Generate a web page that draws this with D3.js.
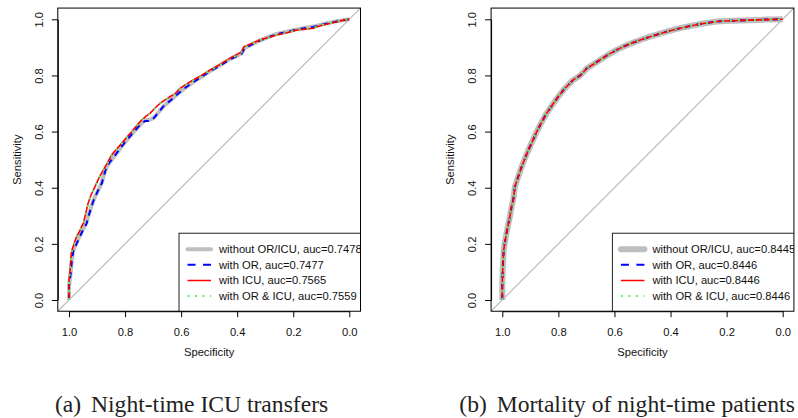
<!DOCTYPE html>
<html>
<head>
<meta charset="utf-8">
<script src="https://cdn.jsdelivr.net/npm/d3@7"></script>
<style>
  body { margin: 0; background: #fff; }
  svg text { font-family: "Liberation Sans", Arial, sans-serif; }
</style>
</head>
<body>
<svg width="798" height="418"></svg>
<script>
// ---- data (specificity, sensitivity) ----
var tickValues = [1.0, 0.8, 0.6, 0.4, 0.2, 0.0];

var transferLabels = ["without OR/ICU, auc=0.7478", "with OR, auc=0.7477",
                      "with ICU, auc=0.7565", "with OR & ICU, auc=0.7559"];
var mortalityLabels = ["without OR/ICU, auc=0.8445", "with OR, auc=0.8446",
                       "with ICU, auc=0.8446", "with OR & ICU, auc=0.8446"];
var captions = ["Night-time ICU transfers", "Mortality of night-time patients"];

// (a) night-time ICU transfers
var transferWithout = [[1,0],[1,0.05],[0.994,0.095],[0.99,0.14],[0.986,0.172],[0.975,0.2],[0.963,0.226],
  [0.951,0.25],[0.939,0.273],[0.931,0.3],[0.923,0.325],[0.915,0.35],[0.906,0.37],[0.9,0.382],[0.891,0.4],
  [0.883,0.418],[0.875,0.446],[0.865,0.476],[0.847,0.5],[0.829,0.524],[0.811,0.548],[0.793,0.571],
  [0.772,0.595],[0.752,0.618],[0.73,0.64],[0.712,0.642],[0.7,0.648],[0.692,0.655],[0.677,0.673],
  [0.663,0.69],[0.636,0.713],[0.609,0.737],[0.584,0.757],[0.556,0.777],[0.526,0.796],[0.496,0.816],
  [0.46,0.837],[0.426,0.858],[0.4,0.87],[0.384,0.879],[0.374,0.897],[0.345,0.912],[0.319,0.925],
  [0.285,0.938],[0.259,0.948],[0.222,0.956],[0.188,0.964],[0.155,0.97],[0.128,0.974],[0.093,0.983],
  [0.065,0.989],[0.045,0.993],[0.02,0.997],[0,1]];
var transferOR = [[1,0],[1,0.05],[0.994,0.095],[0.99,0.14],[0.985,0.172],[0.973,0.2],[0.961,0.226],
  [0.95,0.25],[0.937,0.273],[0.93,0.3],[0.922,0.325],[0.914,0.35],[0.906,0.37],[0.901,0.38],[0.892,0.4],
  [0.883,0.416],[0.875,0.445],[0.866,0.475],[0.848,0.5],[0.83,0.523],[0.812,0.547],[0.794,0.57],
  [0.773,0.594],[0.753,0.617],[0.729,0.638],[0.711,0.638],[0.7,0.645],[0.693,0.653],[0.678,0.672],
  [0.664,0.689],[0.637,0.712],[0.61,0.736],[0.585,0.756],[0.557,0.776],[0.527,0.795],[0.497,0.815],
  [0.46,0.836],[0.426,0.857],[0.4,0.869],[0.384,0.878],[0.374,0.896],[0.345,0.912],[0.319,0.924],
  [0.285,0.937],[0.259,0.947],[0.222,0.955],[0.188,0.963],[0.155,0.969],[0.128,0.973],[0.093,0.982],
  [0.065,0.988],[0.045,0.992],[0.02,0.997],[0,1]];
var transferICU = [[1,0],[1,0.07],[0.996,0.107],[0.993,0.15],[0.991,0.172],[0.982,0.2],[0.973,0.226],
  [0.962,0.245],[0.955,0.262],[0.949,0.273],[0.94,0.31],[0.933,0.34],[0.928,0.356],[0.921,0.375],
  [0.914,0.39],[0.907,0.404],[0.893,0.435],[0.878,0.463],[0.862,0.49],[0.848,0.517],[0.83,0.538],
  [0.812,0.558],[0.794,0.58],[0.776,0.6],[0.758,0.622],[0.741,0.641],[0.725,0.655],[0.711,0.665],
  [0.692,0.685],[0.675,0.701],[0.658,0.712],[0.64,0.724],[0.622,0.735],[0.604,0.754],[0.58,0.77],
  [0.557,0.784],[0.527,0.8],[0.497,0.819],[0.46,0.84],[0.426,0.861],[0.4,0.875],[0.384,0.885],
  [0.376,0.902],[0.348,0.914],[0.319,0.926],[0.29,0.935],[0.259,0.944],[0.222,0.952],[0.188,0.962],
  [0.155,0.965],[0.128,0.968],[0.11,0.975],[0.093,0.98],[0.07,0.985],[0.045,0.991],[0.02,0.997],[0,1]];
var transferORICU = [[1,0],[1,0.07],[0.996,0.107],[0.993,0.15],[0.99,0.172],[0.981,0.2],[0.972,0.226],
  [0.961,0.245],[0.954,0.262],[0.948,0.273],[0.939,0.31],[0.932,0.34],[0.927,0.356],[0.92,0.375],
  [0.913,0.39],[0.906,0.404],[0.892,0.435],[0.877,0.463],[0.861,0.49],[0.847,0.517],[0.829,0.538],
  [0.811,0.558],[0.793,0.58],[0.775,0.6],[0.757,0.622],[0.74,0.64],[0.724,0.654],[0.71,0.664],
  [0.691,0.684],[0.674,0.7],[0.657,0.711],[0.639,0.723],[0.621,0.734],[0.603,0.752],[0.579,0.769],
  [0.556,0.783],[0.526,0.799],[0.496,0.818],[0.46,0.838],[0.426,0.858],[0.4,0.873],[0.384,0.883],
  [0.375,0.9],[0.347,0.913],[0.319,0.925],[0.29,0.934],[0.259,0.944],[0.222,0.952],[0.188,0.962],
  [0.155,0.966],[0.128,0.969],[0.11,0.976],[0.093,0.981],[0.07,0.986],[0.045,0.991],[0.02,0.997],[0,1]];

// (b) mortality: all four curves coincide (auc 0.8445 / 0.8446)
var mortalityCurve = [[1,0],[1,0.06],[0.998,0.119],[0.995,0.178],[0.99,0.21],[0.985,0.238],[0.979,0.268],
  [0.973,0.297],[0.967,0.332],[0.961,0.356],[0.955,0.404],[0.943,0.44],[0.931,0.475],[0.919,0.505],
  [0.907,0.534],[0.892,0.567],[0.877,0.6],[0.86,0.633],[0.842,0.665],[0.818,0.7],[0.8,0.725],
  [0.782,0.748],[0.765,0.766],[0.747,0.784],[0.722,0.8],[0.699,0.825],[0.675,0.84],[0.652,0.855],
  [0.622,0.874],[0.592,0.891],[0.563,0.905],[0.533,0.917],[0.503,0.928],[0.473,0.938],[0.444,0.947],
  [0.414,0.956],[0.384,0.964],[0.354,0.971],[0.325,0.977],[0.295,0.983],[0.265,0.988],[0.235,0.992],
  [0.205,0.994],[0.176,0.995],[0.12,0.997],[0.06,0.999],[0,1]];

// ---- drawing ----
var svg = d3.select("svg");
var fontSize = 11.2;

var panels = [
  { id: "a", x0: 69, x1: 349.3, grayW: 4, series: [transferWithout, transferOR, transferICU, transferORICU],
    labels: transferLabels, caption: captions[0], capX: 55, capGap: 36 },
  { id: "b", x0: 502.3, x1: 782.7, grayW: 6, series: [mortalityCurve, mortalityCurve, mortalityCurve, mortalityCurve],
    labels: mortalityLabels, caption: captions[1], capX: 459.3, capGap: 37.4 }
];

// line styles: gray wide, blue dashed, red solid, green dotted
function styleFor(i, p) {
  return [
    { stroke: "#bebebe", width: p.grayW, dash: null, legendDash: null },
    { stroke: "#0000ff", width: 2, dash: "6,5", legendDash: "8,7.5" },
    { stroke: "#ff0000", width: 1.6, dash: null, legendDash: null },
    { stroke: "#66ee66", width: 2, dash: "2,6", legendDash: "2,5.5" }
  ][i];
}

panels.forEach(function(p) {
  var x = d3.scaleLinear().domain([1, 0]).range([p.x0, p.x1]);
  var y = d3.scaleLinear().domain([0, 1]).range([300, 19.3]);
  var bx0 = x(1.04), bx1 = x(-0.04), by0 = y(1.04), by1 = y(-0.04);

  svg.append("clipPath").attr("id", "clip-" + p.id)
    .append("rect").attr("x", bx0).attr("y", by0).attr("width", bx1 - bx0).attr("height", by1 - by0);

  var g = svg.append("g").attr("clip-path", "url(#clip-" + p.id + ")");

  // chance diagonal
  g.append("line")
    .attr("x1", x(1.1)).attr("y1", y(-0.1)).attr("x2", x(-0.1)).attr("y2", y(1.1))
    .style("stroke", "#b4b4b4").style("stroke-width", 1.1);

  var line = d3.line().x(function(d) { return x(d[0]); }).y(function(d) { return y(d[1]); });

  p.series.forEach(function(s, i) {
    var st = styleFor(i, p);
    g.append("path").datum(s).attr("d", line)
      .style("fill", "none").style("stroke", st.stroke).style("stroke-width", st.width)
      .style("stroke-dasharray", st.dash).style("stroke-linejoin", "round");
  });

  // legend, bottom right, clipped by plot box like the original
  var lx = bx1 - 181.5, ly = by1 - 78;
  g.append("rect").attr("x", lx).attr("y", ly).attr("width", 200).attr("height", 100)
    .style("fill", "#fff").style("stroke", "#222").style("stroke-width", 1);
  p.labels.forEach(function(t, i) {
    var st = styleFor(i, p);
    var yy = ly + 16 + i * 15.6;
    g.append("line").attr("x1", lx + 8.5).attr("x2", lx + 32).attr("y1", yy).attr("y2", yy)
      .style("stroke", st.stroke).style("stroke-width", st.width).style("stroke-dasharray", st.legendDash)
      .style("stroke-linecap", i === 0 ? "round" : "butt");
    g.append("text").attr("x", lx + 40).attr("y", yy).attr("dy", "0.35em")
      .style("font-size", fontSize + "px").style("fill", "#111").text(t);
  });

  // plot box
  svg.append("rect").attr("x", bx0).attr("y", by0).attr("width", bx1 - bx0).attr("height", by1 - by0)
    .style("fill", "none").style("stroke", "#000").style("stroke-width", 1);

  // axes
  var fmt = d3.format(".1f");
  var ax = svg.append("g").attr("transform", "translate(0," + by1 + ")")
    .call(d3.axisBottom(x).tickValues(tickValues).tickFormat(fmt).tickSize(6).tickSizeOuter(0).tickPadding(10.5));
  ax.selectAll("text").style("font-size", fontSize + "px").style("font-family", "Liberation Sans, Arial, sans-serif").style("fill", "#111");

  var ay = svg.append("g").attr("transform", "translate(" + bx0 + ",0)")
    .call(d3.axisLeft(y).tickValues(tickValues.slice().reverse()).tickFormat(fmt).tickSize(6).tickSizeOuter(0));
  ay.selectAll("text")
    .attr("x", 0).attr("y", 0).attr("dy", "0.35em")
    .attr("text-anchor", "middle")
    .attr("transform", "translate(-19.1,0) rotate(-90)")
    .style("font-size", fontSize + "px").style("font-family", "Liberation Sans, Arial, sans-serif").style("fill", "#111");
  svg.selectAll(".domain").style("stroke", "#000");

  // axis titles
  svg.append("text").attr("x", (bx0 + bx1) / 2).attr("y", 356)
    .attr("text-anchor", "middle").style("font-size", fontSize + "px").style("fill", "#111").text("Specificity");
  svg.append("text")
    .attr("transform", "translate(" + (bx0 - 41) + "," + ((by0 + by1) / 2) + ") rotate(-90)")
    .attr("dy", "0.35em").attr("text-anchor", "middle")
    .style("font-size", fontSize + "px").style("fill", "#111").text("Sensitivity");

  // caption
  var cap = svg.append("text").attr("x", p.capX).attr("y", 412.3)
    .style("font-family", "Liberation Serif, Times New Roman, serif").style("font-size", "23.6px").style("fill", "#222");
  cap.append("tspan").text("(" + p.id + ")");
  cap.append("tspan").attr("x", p.capX + p.capGap).text(p.caption);
});
</script>
</body>
</html>
